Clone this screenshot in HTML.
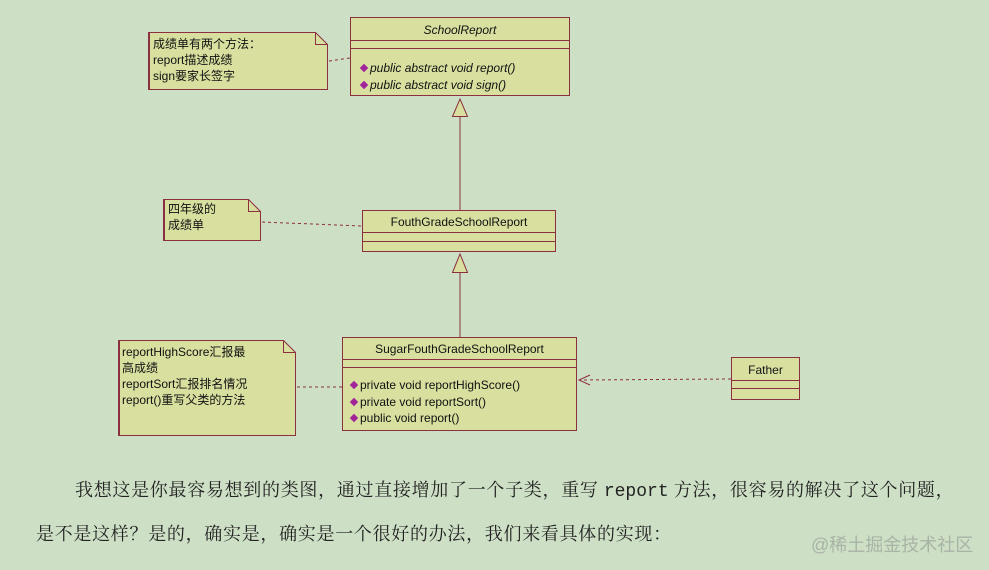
<!DOCTYPE html>
<html><head><meta charset="utf-8"><style>
body{margin:0;width:989px;height:570px;background:#cddfc5;position:relative;overflow:hidden;font-family:"Liberation Sans","Noto Sans CJK SC",sans-serif}
.b{position:absolute;background:#d9df9f;border:1px solid #8b3040;box-sizing:border-box}
.t{position:absolute;font-size:12px;color:#111;white-space:nowrap}
.m{position:absolute;font-size:12px;color:#111;white-space:nowrap}
.d{display:inline-block;width:6px;height:6px;background:#a0249a;transform:rotate(45deg);margin-right:3px;vertical-align:1px}
.p{position:absolute;font-family:"Liberation Serif","Noto Serif CJK SC",serif;font-size:18px;letter-spacing:0.7px;color:#222;white-space:nowrap}
</style></head><body>
<svg width="989" height="570" style="position:absolute;left:0;top:0">
<g stroke="#8b3040" fill="#d9df9f" stroke-width="1">
<path d="M148.5 32.5H315.5L327.5 44.5V89.5H148.5Z"/><path d="M315.5 32.5V44.5H327.5" fill="none"/>
<path d="M163.5 199.5H248.5L260.5 211.5V240.5H163.5Z"/><path d="M248.5 199.5V211.5H260.5" fill="none"/>
<path d="M118.5 340.5H283.5L295.5 352.5V435.5H118.5Z"/><path d="M283.5 340.5V352.5H295.5" fill="none"/>
</g>
<g stroke="#8b3040" stroke-width="2" fill="none"><line x1="149" y1="32" x2="149" y2="90"/><line x1="164" y1="199" x2="164" y2="241"/><line x1="119" y1="340" x2="119" y2="436"/></g>
<g stroke="#8b3040" stroke-dasharray="3,3" fill="none">
<line x1="329" y1="61" x2="350" y2="58"/>
<line x1="262" y1="222" x2="362" y2="226"/>
<line x1="297" y1="387" x2="342" y2="387"/>
<line x1="731" y1="379" x2="580" y2="380"/>
</g>
<path d="M590 375L579 380L590 385" stroke="#8b3040" fill="none"/>
<g stroke="#8b3040" fill="#d9df9f">
<line x1="460" y1="116" x2="460" y2="210"/>
<path d="M452.5 116.5L460 99L467.5 116.5Z"/>
<line x1="460" y1="272" x2="460" y2="337"/>
<path d="M452.5 272.5L460 254L467.5 272.5Z"/>
</g>
</svg>
<div class="t" style="left:153px;top:36px;line-height:16px">成绩单有两个方法：<br>report描述成绩<br>sign要家长签字</div>
<div class="t" style="left:168px;top:201px;line-height:16px">四年级的<br>成绩单</div>
<div class="t" style="left:122px;top:344px;line-height:16px">reportHighScore汇报最<br>高成绩<br>reportSort汇报排名情况<br>report()重写父类的方法</div>

<div class="b" style="left:350px;top:17px;width:220px;height:79px">
<div class="t" style="left:0;width:218px;text-align:center;top:5px;font-style:italic">SchoolReport</div>
<div style="position:absolute;left:0;right:0;top:22px;border-top:1px solid #8b3040"></div>
<div style="position:absolute;left:0;right:0;top:30px;border-top:1px solid #8b3040"></div>
<div class="m" style="left:10px;top:42px;line-height:17px;font-style:italic"><span class="d"></span>public abstract void report()<br><span class="d"></span>public abstract void sign()</div>
</div>

<div class="b" style="left:362px;top:210px;width:194px;height:42px">
<div class="t" style="left:0;width:192px;text-align:center;top:4px">FouthGradeSchoolReport</div>
<div style="position:absolute;left:0;right:0;top:21px;border-top:1px solid #8b3040"></div>
<div style="position:absolute;left:0;right:0;top:30px;border-top:1px solid #8b3040"></div>
</div>

<div class="b" style="left:342px;top:337px;width:235px;height:94px">
<div class="t" style="left:0;width:233px;text-align:center;top:4px">SugarFouthGradeSchoolReport</div>
<div style="position:absolute;left:0;right:0;top:21px;border-top:1px solid #8b3040"></div>
<div style="position:absolute;left:0;right:0;top:29px;border-top:1px solid #8b3040"></div>
<div class="m" style="left:8px;top:39px;line-height:16.5px"><span class="d"></span>private void reportHighScore()<br><span class="d"></span>private void reportSort()<br><span class="d"></span>public void report()</div>
</div>

<div class="b" style="left:731px;top:357px;width:69px;height:43px">
<div class="t" style="left:0;width:67px;text-align:center;top:5px">Father</div>
<div style="position:absolute;left:0;right:0;top:22px;border-top:1px solid #8b3040"></div>
<div style="position:absolute;left:0;right:0;top:30px;border-top:1px solid #8b3040"></div>
</div>

<div class="p" style="left:75px;top:476px">我想这是你最容易想到的类图，通过直接增加了一个子类，重写 <span style="font-family:'Liberation Mono',monospace;letter-spacing:0">report</span> 方法，很容易的解决了这个问题，</div>
<div class="p" style="left:36px;top:520px">是不是这样？是的，确实是，确实是一个很好的办法，我们来看具体的实现：</div>
<div style="position:absolute;left:811px;top:531px;font-size:18px;color:#a9b3a6;font-family:'Liberation Sans','Noto Sans CJK SC',sans-serif;white-space:nowrap">@稀土掘金技术社区</div>
</body></html>
